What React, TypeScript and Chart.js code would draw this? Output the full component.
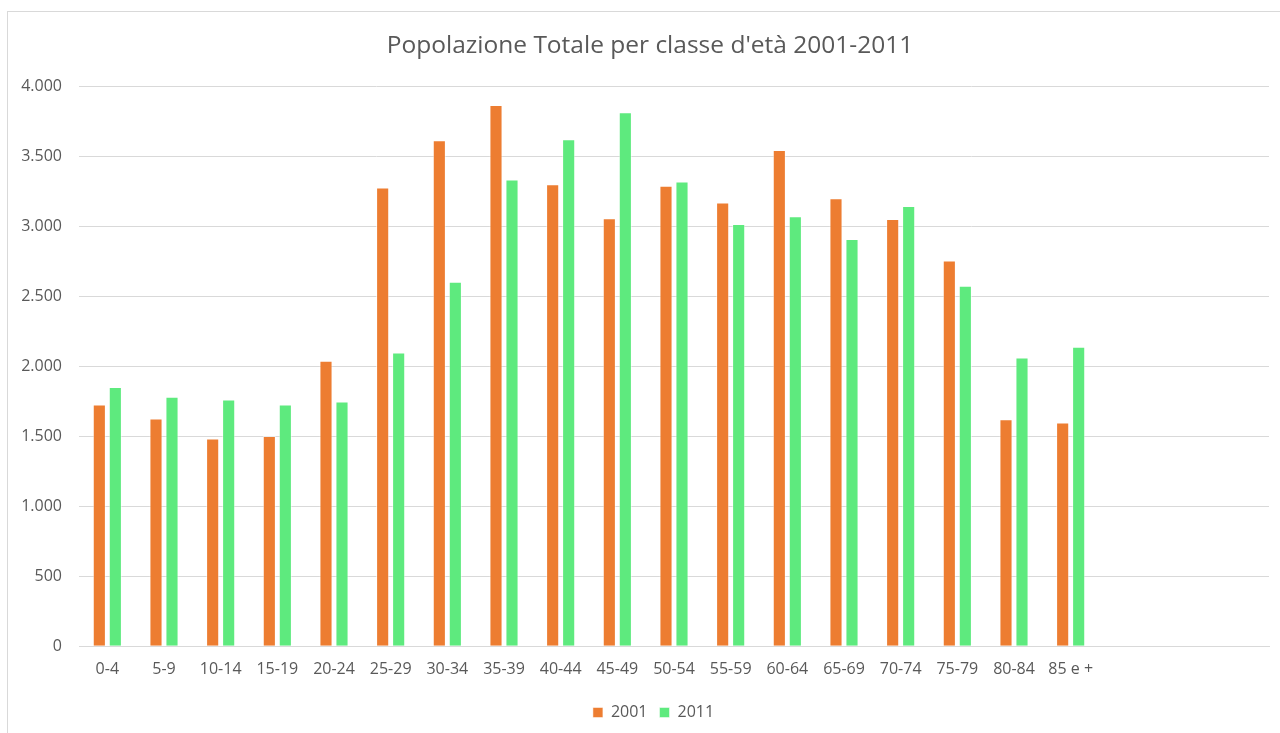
import React, { useEffect, useRef } from "react";
import { Chart, registerables } from "chart.js";

Chart.register(...registerables);

const categories = ["0-4", "5-9", "10-14", "15-19", "20-24", "25-29", "30-34", "35-39", "40-44", "45-49", "50-54", "55-59", "60-64", "65-69", "70-74", "75-79", "80-84", "85 e +", "", "", ""];
const values2001 = [1726, 1626, 1483, 1502, 2038, 3276, 3612, 3864, 3298, 3055, 3288, 3169, 3543, 3198, 3050, 2755, 1621, 1598];
const values2011 = [1852, 1781, 1762, 1726, 1748, 2098, 2602, 3333, 3619, 3812, 3319, 3014, 3071, 2907, 3143, 2574, 2062, 2138];
const seriesLabels = ["2001", "2011"];
const titleText = "Popolazione Totale per classe d'età 2001-2011";

const fmt = (v: number) => String(v).replace(/\B(?=(\d{3})+(?!\d))/g, ".");
const FONT = "'Open Sans', sans-serif";

const titlePlugin = {
  id: "chartAreaTitle",
  afterLayout(chart: any) {
    if (chart.legend) {
      chart.legend.left += 15;
      chart.legend.right += 15;
    }
  },
  afterDraw(chart: any) {
    const ctx = chart.ctx;
    ctx.save();
    ctx.font = `24.5px ${FONT}`;
    ctx.fillStyle = "#595959";
    ctx.textAlign = "center";
    ctx.textBaseline = "alphabetic";
    ctx.fillText(titleText, 642, 41);
    ctx.restore();
  },
};

export default function App() {
  const ref = useRef<HTMLCanvasElement>(null);
  useEffect(() => {
    if (!ref.current) return;
    const chart = new Chart(ref.current, {
      type: "bar",
      data: {
        labels: categories,
        datasets: [
          {
            label: seriesLabels[0],
            data: values2001,
            backgroundColor: "#ED7D31",
            borderColor: "rgba(255,255,255,0.5)",
            borderWidth: 1,
            categoryPercentage: 0.565,
            barPercentage: 0.82,
          },
          {
            label: seriesLabels[1],
            data: values2011,
            backgroundColor: "#5EEA7E",
            borderColor: "rgba(255,255,255,0.5)",
            borderWidth: 1,
            categoryPercentage: 0.565,
            barPercentage: 0.82,
          },
        ],
      },
      plugins: [titlePlugin],
      options: {
        animation: false,
        responsive: false,
        layout: { padding: { left: 0, right: 11, top: 74, bottom: 3.5 } },
        plugins: {
          title: { display: false },
          legend: {
            position: "bottom",
            labels: {
              color: "#595959",
              font: { family: FONT, size: 16 },
              boxWidth: 10,
              boxHeight: 10,
              padding: 12,
            },
          },
          tooltip: { enabled: false },
        },
        scales: {
          x: {
            grid: { display: false, drawTicks: false },
            border: { display: true, color: "#D9D9D9", width: 1 },
            ticks: { color: "#595959", font: { family: FONT, size: 16 }, padding: 13.5, maxRotation: 0, autoSkip: false },
          },
          y: {
            min: 0,
            max: 4000,
            afterFit: (s: any) => { s.width = 71; },
            grid: { color: "#D9D9D9", drawTicks: false },
            border: { display: false },
            ticks: {
              stepSize: 500,
              color: "#595959",
              font: { family: FONT, size: 16 },
              padding: 17,
              callback: (v: any) => fmt(Number(v)),
            },
          },
        },
      },
    });
    return () => chart.destroy();
  }, []);
  return (
    <div style={{ position: "absolute", left: 7, top: 11, width: 1290, height: 740, border: "1px solid #D9D9D9", background: "#fff" }}>
      <canvas ref={ref} width={1272} height={722} style={{ display: "block" }} />
    </div>
  );
}
